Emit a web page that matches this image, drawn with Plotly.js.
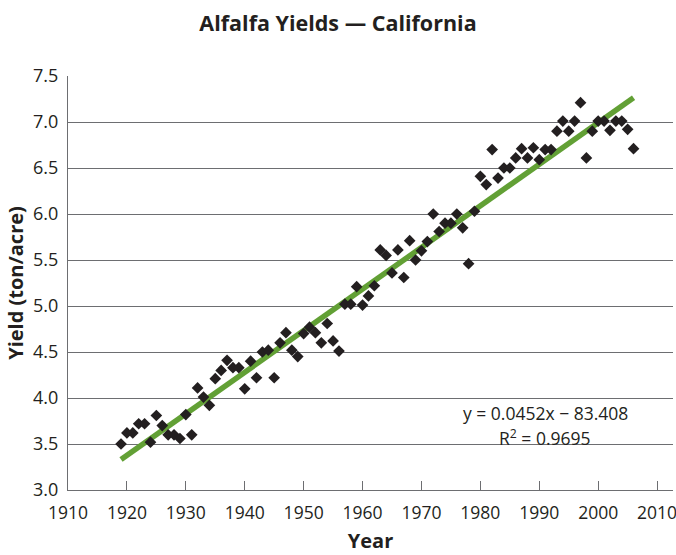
<!DOCTYPE html>
<html>
<head>
<meta charset="utf-8">
<script src="https://cdn.plot.ly/plotly-3.0.1.min.js"></script>
<style>
html,body{margin:0;padding:0;background:#fff;}
#chart{width:676px;height:555px;}
</style>
</head>
<body>
<div id="chart"></div>
<script>
const years = [1919,1920,1921,1922,1923,1924,1925,1926,1927,1928,1929,1930,1931,1932,1933,1934,1935,1936,1937,1938,1939,1940,
1941,1942,1943,1944,1945,1946,1947,1948,1949,1950,1951,1952,1953,1954,1955,1956,1957,1958,1959,1960,
1961,1962,1963,1964,1965,1966,1967,1968,1969,1970,1971,1972,1973,1974,1975,1976,1977,1978,1979,1980,
1981,1982,1983,1984,1985,1986,1987,1988,1989,1990,1991,1992,1993,1994,1995,1996,1997,1998,1999,2000,
2001,2002,2003,2004,2005,2006];
const yields = [3.50,3.62,3.62,3.72,3.72,3.52,3.81,3.70,3.60,3.60,3.56,3.82,3.60,4.11,4.01,3.92,4.21,4.30,4.41,4.33,4.33,4.10,
4.40,4.22,4.50,4.52,4.22,4.60,4.71,4.52,4.45,4.70,4.77,4.71,4.60,4.81,4.62,4.51,5.02,5.02,5.21,5.01,
5.11,5.22,5.61,5.55,5.36,5.61,5.31,5.71,5.50,5.60,5.70,6.00,5.81,5.90,5.90,6.00,5.85,5.46,6.03,6.41,
6.32,6.70,6.39,6.50,6.50,6.61,6.71,6.61,6.72,6.59,6.70,6.70,6.90,7.01,6.90,7.01,7.21,6.61,6.90,7.01,
7.01,6.91,7.01,7.01,6.92,6.71];
const slope = 0.0452, intercept = -83.408, r2 = 0.9695;
const xTicks = [1910,1920,1930,1940,1950,1960,1970,1980,1990,2000,2010];
const yTicks = [3.0,3.5,4.0,4.5,5.0,5.5,6.0,6.5,7.0,7.5];

const trendX = [years[0], years[years.length-1]];
const trendY = trendX.map(x => slope*x + intercept);

const txt = '#231f20';
const grid = '#6d6e71';
const font = '"Open Sans", "Noto Sans", sans-serif';

const data = [
  {x: trendX, y: trendY, type:'scatter', mode:'lines',
   line:{color:'#62a035', width:5.5}, hoverinfo:'skip', showlegend:false},
  {x: years, y: yields, type:'scatter', mode:'markers',
   marker:{symbol:'diamond', size:9, color:txt}, showlegend:false}
];

const layout = {
  width:676, height:555,
  margin:{l:68, r:3, t:76, b:65},
  paper_bgcolor:'#fff', plot_bgcolor:'#fff',
  font:{family:font, color:txt, size:18},
  title:{text:'<b>Alfalfa Yields — California</b>', x:0.5, xanchor:'center', y:0.958, yanchor:'middle',
         font:{family:font, size:21.5, color:txt}},
  xaxis:{range:[1910,2012.7], tickvals:xTicks, ticktext:xTicks.map(String),
         ticks:'inside', ticklen:9, tickwidth:1, tickcolor:grid,
         showline:true, linecolor:grid, linewidth:1, showgrid:false, zeroline:false,
         tickfont:{size:17.5, color:txt}, ticklabelstandoff:7, ticklabeloverflow:'allow',
         title:{text:'<b>Year</b>', font:{size:20, color:txt}, standoff:10}},
  yaxis:{range:[3,7.5], tickvals:yTicks, ticktext:yTicks.map(v=>v.toFixed(1)),
         ticks:'', showline:true, linecolor:grid, linewidth:1,
         showgrid:true, gridcolor:grid, gridwidth:1, zeroline:false,
         tickfont:{size:18, color:txt}, ticklabelstandoff:5,
         title:{text:'<b>Yield (ton/acre)</b>', font:{size:20, color:txt}, standoff:4}},
  annotations:[
    {x:1991, y:3.84, xref:'x', yref:'y', text:'y = '+slope+'x − '+Math.abs(intercept),
     showarrow:false, font:{size:17.5, color:txt}},
    {x:1991, y:3.575, xref:'x', yref:'y', text:'R<sup>2</sup> = '+r2,
     showarrow:false, font:{size:17.5, color:txt}}
  ]
};

Plotly.newPlot('chart', data, layout, {displayModeBar:false, staticPlot:true});
</script>
</body>
</html>
